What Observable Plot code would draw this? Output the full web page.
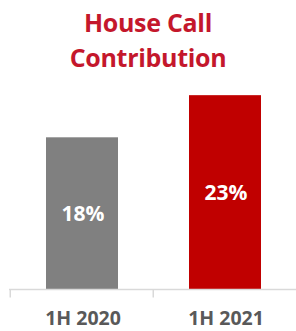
<!DOCTYPE html>
<html>
<head>
<meta charset="utf-8">
<script src="https://cdn.jsdelivr.net/npm/d3@7"></script>
<script src="https://cdn.jsdelivr.net/npm/@observablehq/plot@0.6"></script>
<style>
  html, body { margin: 0; padding: 0; background: #fff; }
  #wrap { width: 296px; height: 331px; overflow: hidden; }
  #title {
    height: 80px; box-sizing: border-box; padding-top: 5px;
    text-align: center; font-family: "Open Sans", sans-serif; font-weight: 700;
    font-size: 25px; line-height: 35px; color: #C4172C; letter-spacing: -0.3px;
  }
  svg { display: block; overflow: visible; }
</style>
</head>
<body>
<div id="wrap">
  <div id="title">House Call<br>Contribution</div>
  <div id="chart"></div>
</div>
<script>
const periods = ["1H 2020", "1H 2021"];
const shares = [18, 23];
const labels = ["18%", "23%"];
const colors = ["#808080", "#C00000"];

const data = periods.map((p, i) => ({period: p, value: shares[i], label: labels[i], color: colors[i]}));

const chart = Plot.plot({
  width: 296,
  height: 251,
  marginTop: 0,
  marginLeft: 9,
  marginRight: 0,
  marginBottom: 42,
  style: {fontFamily: "'Open Sans', sans-serif", background: "#fff", overflow: "visible"},
  x: {domain: periods, padding: 0, axis: null},
  y: {domain: [0, 24.8], axis: null},
  color: {type: "identity"},
  marks: [
    Plot.barY(data, {x: "period", y: "value", fill: "color", insetLeft: 36, insetRight: 35}),
    Plot.text(data, {x: "period", y: d => d.value / 2, text: "label", fill: "white",
      fontSize: 21, fontWeight: 700, dx: 1, dy: 1}),
    Plot.ruleY([0], {stroke: "#d9d9d9", strokeWidth: 1.5}),
    Plot.ruleX(periods, {x: d => d, dx: -71.75, y1: 0, y2: -1, stroke: "#d9d9d9", strokeWidth: 1.5}),
    Plot.axisX({tickSize: 0, tickPadding: 22, fontSize: 19.5, fontWeight: 700, color: "#595959",
      label: null, dx: 1})
  ]
});
document.getElementById("chart").appendChild(chart);
</script>
</body>
</html>
